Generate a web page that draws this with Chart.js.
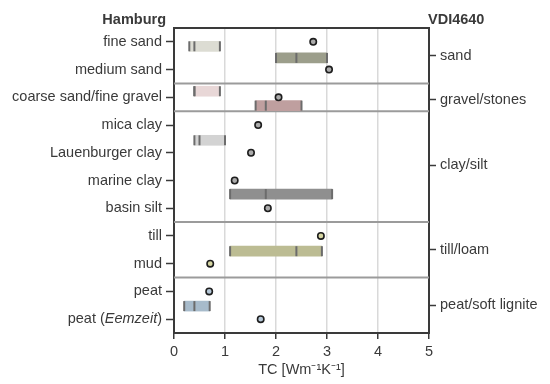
<!DOCTYPE html>
<html>
<head>
<meta charset="utf-8">
<script src="https://cdn.jsdelivr.net/npm/chart.js@4.4.1/dist/chart.umd.min.js"></script>
<style>
html,body{margin:0;padding:0;background:#fff;}
#wrap{width:550px;height:384px;position:relative;}
</style>
</head>
<body>
<div id="wrap"><canvas id="c" width="550" height="384"></canvas></div>
<script>
// ---- data ----
const categories = ['fine sand','medium sand','coarse sand/fine gravel','mica clay','Lauenburger clay','marine clay','basin silt','till','mud','peat','peat (Eemzeit)'];
const hamburgTC = [2.73, 3.04, 2.05, 1.65, 1.51, 1.19, 1.84, 2.88, 0.71, 0.69, 1.70];
const dotColors = ['#ababab','#ababab','#ababab','#ababab','#ababab','#ababab','#ababab','#d6d6a2','#d6d6a2','#b6c8d8','#b6c8d8'];

const vdiGroups = ['sand','gravel/stones','clay/silt','till/loam','peat/soft lignite'];
const vdiGroupPos = [0.5, 2.08, 4.45, 7.5, 9.5];
const separators = [1.5, 2.5, 6.5, 8.5];

// VDI 4640 ranges (dry / saturated)
const vdiMin = [0.3, 2.0, 0.4, 1.6, 0.4, 1.1, 1.1, 0.2];
const vdiMax = [0.9, 3.0, 0.9, 2.5, 1.0, 3.1, 2.9, 0.7];
const vdiRec = [0.4, 2.4, 0.4, 1.8, 0.5, 1.8, 2.4, 0.4];
const vdiPos = [0.16, 0.58, 1.78, 2.3, 3.55, 5.49, 7.55, 9.53];
const vdiColors = ['#dcdcd3','#9c9e8b','#e8d7d7','#bf9f9f','#d3d3d3','#8f8f8f','#bcbc93','#a7bbcb'];

const xTitle = 'TC [Wm\u207B\u00B9K\u207B\u00B9]';
const leftTitle = 'Hamburg';
const rightTitle = 'VDI4640';

// ---- styling ----
const FONT = '"Liberation Sans", Arial, sans-serif';
const TXT = '#3a3a3a';
const AX = '#3a3a3a';
Chart.defaults.font.family = FONT;
Chart.defaults.font.size = 14.5;
Chart.defaults.color = TXT;

const barData = vdiMin.map((m, i) => ({x: [m, vdiMax[i]], y: vdiPos[i]}));
const tickMarks = [];
vdiMin.forEach((m, i) => {
  tickMarks.push({x: m, y: vdiPos[i]});
  tickMarks.push({x: vdiMax[i], y: vdiPos[i]});
  tickMarks.push({x: vdiRec[i], y: vdiPos[i]});
});
const dots = hamburgTC.map((v, i) => ({x: v, y: i}));

const sepDatasets = separators.map(s => ({
  type: 'line',
  data: [{x: 0, y: s}, {x: 5, y: s}],
  borderColor: '#9b9b9b',
  borderWidth: 2,
  pointRadius: 0,
  fill: false,
  order: 3
}));

const extras = {
  id: 'extras',
  afterDraw(chart) {
    const ctx = chart.ctx, ca = chart.chartArea;
    ctx.save();
    ctx.fillStyle = TXT;
    ctx.textBaseline = 'middle';
    ctx.font = 'bold 14.5px ' + FONT;
    ctx.textAlign = 'right';
    ctx.fillText(leftTitle, ca.left - 8, 20);
    ctx.textAlign = 'left';
    ctx.fillText(rightTitle, ca.right - 1, 19.5);
    // mixed-style label for the last category
    const ys = chart.scales.y;
    const y = ys.getPixelForValue(categories.length - 1);
    const parts = [['peat (', 'normal'], ['Eemzeit', 'italic'], [')', 'normal']];
    let x = ca.left - 8 - 4;
    ctx.textAlign = 'right';
    for (let i = parts.length - 1; i >= 0; i--) {
      ctx.font = parts[i][1] + ' 14.5px ' + FONT;
      ctx.fillText(parts[i][0], x, y);
      x -= ctx.measureText(parts[i][0]).width;
    }
    ctx.restore();
  }
};

new Chart(document.getElementById('c'), {
  type: 'scatter',
  data: {
    datasets: [
      {
        type: 'scatter',
        data: dots,
        pointRadius: 3.2,
        pointHoverRadius: 3.2,
        pointBackgroundColor: dotColors,
        pointBorderColor: '#1e1e1e',
        pointBorderWidth: 1.6,
        order: 0
      },
      {
        type: 'scatter',
        data: tickMarks,
        pointStyle: 'line',
        rotation: 90,
        pointRadius: 5,
        pointHoverRadius: 5,
        borderColor: '#6c6c6c',
        pointBorderColor: '#6c6c6c',
        pointBorderWidth: 2,
        order: 1
      },
      {
        type: 'bar',
        indexAxis: 'y',
        data: barData,
        backgroundColor: vdiColors,
        borderWidth: 0,
        barThickness: 10,
        order: 2
      },
      ...sepDatasets
    ]
  },
  options: {
    responsive: false,
    animation: false,
    events: [],
    layout: {padding: {top: 28, left: 0, right: 0, bottom: 0}},
    plugins: {legend: {display: false}, tooltip: {enabled: false}},
    scales: {
      x: {
        type: 'linear', position: 'bottom', min: 0, max: 5, offset: false,
        ticks: {stepSize: 1, padding: 4, color: TXT, font: {size: 14.5}},
        grid: {offset: false, color: '#d9d9d9', lineWidth: 1.5, tickColor: AX, tickLength: 6, tickWidth: 1.5},
        border: {color: AX, width: 2},
        title: {display: true, text: xTitle, color: TXT, font: {size: 14.5}, padding: {top: 0, bottom: 5}},
        afterFit(s) { s.height = 51; }
      },
      x2: {
        type: 'linear', position: 'top', min: 0, max: 5, offset: false,
        ticks: {display: false},
        grid: {display: false, drawTicks: false},
        border: {color: AX, width: 2},
        afterFit(s) { s.height = 0; }
      },
      y: {
        type: 'linear', position: 'left', reverse: true, min: -0.5, max: 10.5, offset: false,
        afterBuildTicks(s) { s.ticks = categories.map((c, i) => ({value: i})); },
        ticks: {
          autoSkip: false, padding: 4, color: TXT, font: {size: 14.5},
          callback(v) { const i = Math.round(v); return i === categories.length - 1 ? '' : categories[i]; }
        },
        grid: {offset: false, drawOnChartArea: false, tickColor: AX, tickLength: 8, tickWidth: 1.5},
        border: {color: AX, width: 2},
        afterFit(s) { s.width = 174; }
      },
      y2: {
        type: 'linear', position: 'right', reverse: true, min: -0.5, max: 10.5, offset: false,
        afterBuildTicks(s) { s.ticks = vdiGroupPos.map(p => ({value: p})); },
        ticks: {
          autoSkip: false, padding: 4, color: TXT, font: {size: 14.5},
          callback(v, i) { return vdiGroups[i]; }
        },
        grid: {offset: false, drawOnChartArea: false, tickColor: AX, tickLength: 7, tickWidth: 1.5},
        border: {color: AX, width: 2},
        afterFit(s) { s.width = 121; }
      }
    }
  },
  plugins: [extras]
});
</script>
</body>
</html>
